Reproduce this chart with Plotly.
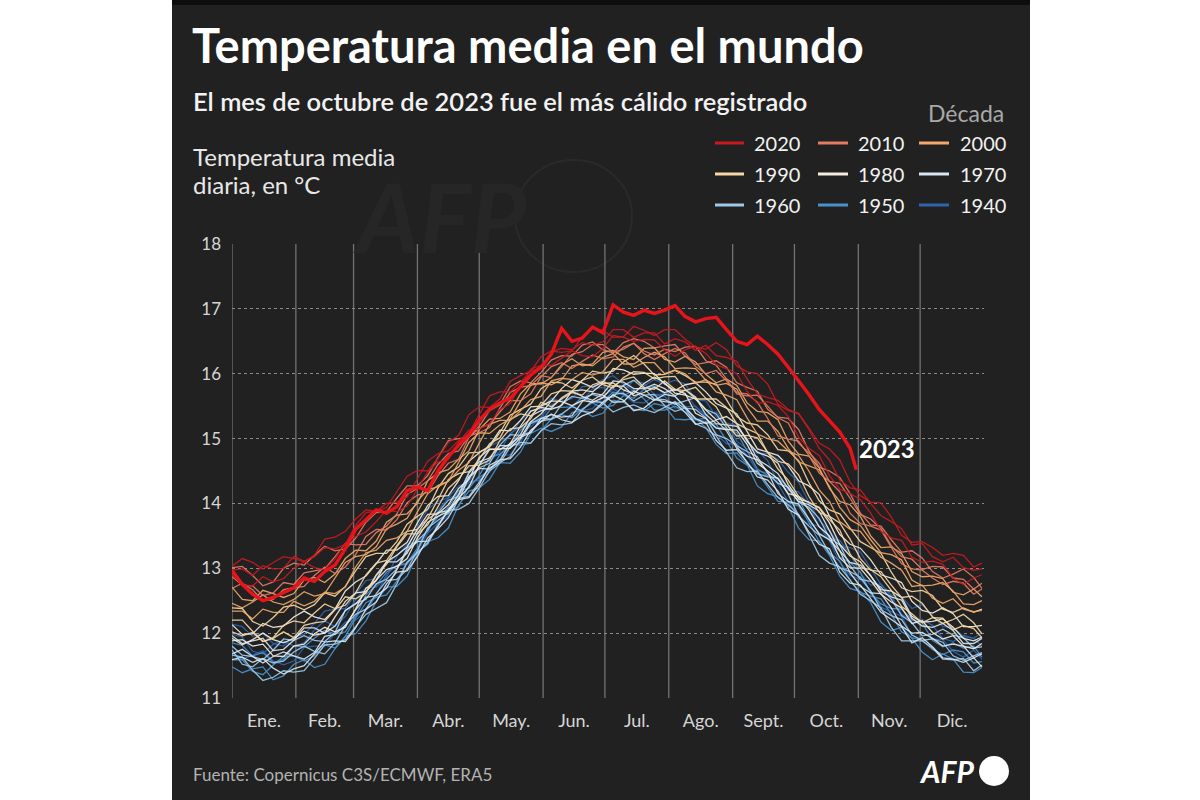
import plotly.graph_objects as go

# ---------------- data ----------------
DAYS = [0, 5, 10, 15, 20, 25, 30, 35, 40, 45, 50, 55, 60, 65, 70, 75, 80, 85, 90, 95, 100,
        105, 110, 115, 120, 125, 130, 135, 140, 145, 150, 155, 160, 165, 170, 175, 180, 185,
        190, 195, 200, 205, 210, 215, 220, 225, 230, 235, 240, 245, 250, 255, 260, 265, 270,
        275, 280, 285, 290, 295, 300, 305, 310, 315, 320, 325, 330, 335, 340, 345, 350, 355,
        360, 364]

MONTH_TICKS = [15.5, 45, 74.5, 105, 135.5, 166, 196.5, 227.5, 258, 288.5, 319, 349.5]
MONTH_LABELS = ["Ene.", "Feb.", "Mar.", "Abr.", "May.", "Jun.", "Jul.", "Ago.", "Sept.", "Oct.", "Nov.", "Dic."]
MONTH_STARTS = [0, 31, 59, 90, 120, 151, 181, 212, 243, 273, 304, 334]
Y_TICKS = [11, 12, 13, 14, 15, 16, 17, 18]

LEGEND_ORDER = ["2020", "2010", "2000", "1990", "1980", "1970", "1960", "1950", "1940"]
DECADE_COLORS = {
    "2020": "#c81a20", "2010": "#e47c62", "2000": "#f0a96b",
    "1990": "#f7d8a4", "1980": "#f4eee0", "1970": "#d6e7f3",
    "1960": "#9fcbea", "1950": "#4a92cc", "1940": "#2c64ad",
}

T1940_A = [11.98, 11.94, 11.72, 11.68, 11.83, 11.88, 11.80, 11.85, 12.05, 12.19, 12.10, 12.26, 12.52, 12.70, 12.71, 12.86, 13.18, 13.37, 13.41, 13.55, 13.90, 14.08, 14.14, 14.49, 14.63, 14.65, 14.80, 15.08, 15.18, 15.18, 15.33, 15.52, 15.60, 15.49, 15.58, 15.77, 15.79, 15.70, 15.72, 15.90, 15.85, 15.68, 15.68, 15.76, 15.70, 15.49, 15.37, 15.41, 15.24, 14.96, 14.84, 14.81, 14.66, 14.32, 14.20, 14.18, 13.97, 13.65, 13.47, 13.43, 13.22, 12.92, 12.74, 12.76, 12.57, 12.29, 12.19, 12.21, 12.12, 11.92, 11.87, 11.97, 11.92, 11.80]
T1940_B = [11.70, 11.60, 11.66, 11.73, 11.57, 11.51, 11.57, 11.78, 11.80, 11.80, 12.00, 12.17, 12.20, 12.34, 12.58, 12.91, 13.04, 13.06, 13.26, 13.54, 13.70, 13.81, 14.14, 14.33, 14.36, 14.48, 14.74, 14.75, 14.94, 15.24, 15.33, 15.29, 15.37, 15.49, 15.43, 15.46, 15.64, 15.77, 15.67, 15.56, 15.55, 15.67, 15.65, 15.47, 15.49, 15.50, 15.34, 15.07, 14.92, 14.92, 14.74, 14.50, 14.47, 14.30, 14.03, 13.78, 13.68, 13.65, 13.42, 13.09, 12.89, 12.83, 12.65, 12.40, 12.33, 12.26, 11.97, 11.89, 11.91, 11.90, 11.72, 11.63, 11.74, 11.60]
T1940_C = [12.14, 12.10, 11.95, 12.00, 11.84, 11.80, 11.94, 11.98, 12.15, 12.34, 12.37, 12.38, 12.60, 12.81, 12.84, 13.07, 13.20, 13.32, 13.64, 13.91, 14.03, 14.09, 14.27, 14.34, 14.58, 14.88, 14.96, 15.04, 15.28, 15.43, 15.46, 15.62, 15.57, 15.62, 15.80, 15.81, 15.91, 15.97, 15.84, 15.73, 15.81, 15.91, 15.84, 15.90, 15.84, 15.60, 15.58, 15.34, 15.24, 15.20, 14.95, 14.77, 14.77, 14.68, 14.48, 14.33, 14.02, 13.74, 13.58, 13.35, 13.32, 13.25, 13.00, 12.75, 12.59, 12.56, 12.38, 12.44, 12.27, 12.10, 12.09, 11.95, 11.92, 12.01]
T1950_A = [11.59, 11.59, 11.41, 11.36, 11.51, 11.64, 11.65, 11.57, 11.65, 11.82, 11.77, 11.95, 12.23, 12.47, 12.55, 12.59, 12.80, 13.10, 13.26, 13.37, 13.69, 13.88, 13.95, 14.28, 14.40, 14.51, 14.75, 14.92, 14.90, 14.93, 15.12, 15.30, 15.37, 15.32, 15.46, 15.55, 15.47, 15.51, 15.66, 15.75, 15.61, 15.44, 15.44, 15.50, 15.41, 15.29, 15.26, 15.22, 14.97, 14.70, 14.59, 14.48, 14.25, 14.03, 14.02, 13.96, 13.71, 13.41, 13.24, 13.11, 12.81, 12.63, 12.57, 12.53, 12.29, 12.02, 11.93, 11.89, 11.75, 11.67, 11.74, 11.71, 11.54, 11.56]
T1950_B = [11.85, 11.81, 11.65, 11.70, 11.55, 11.59, 11.80, 11.79, 11.92, 12.04, 11.99, 12.02, 12.26, 12.59, 12.74, 12.94, 13.04, 13.08, 13.31, 13.62, 13.79, 13.94, 14.20, 14.23, 14.43, 14.71, 14.76, 14.87, 15.13, 15.26, 15.26, 15.47, 15.48, 15.49, 15.64, 15.56, 15.57, 15.72, 15.68, 15.62, 15.76, 15.81, 15.69, 15.65, 15.49, 15.29, 15.31, 15.17, 15.16, 15.09, 14.81, 14.53, 14.43, 14.39, 14.25, 14.08, 13.75, 13.54, 13.44, 13.17, 13.09, 12.94, 12.61, 12.45, 12.38, 12.37, 12.21, 12.16, 11.89, 11.79, 11.85, 11.77, 11.80, 11.63]
T1950_C = [11.48, 11.39, 11.45, 11.48, 11.28, 11.34, 11.52, 11.59, 11.47, 11.52, 11.76, 11.95, 11.99, 12.19, 12.49, 12.71, 12.72, 12.88, 13.22, 13.41, 13.47, 13.62, 13.98, 14.19, 14.24, 14.37, 14.63, 14.62, 14.79, 15.08, 15.16, 15.11, 15.18, 15.40, 15.44, 15.34, 15.39, 15.59, 15.56, 15.45, 15.43, 15.54, 15.50, 15.30, 15.29, 15.31, 15.17, 14.91, 14.77, 14.78, 14.60, 14.27, 14.15, 14.10, 13.95, 13.62, 13.44, 13.42, 13.20, 12.88, 12.69, 12.64, 12.47, 12.17, 12.04, 12.09, 11.92, 11.71, 11.59, 11.68, 11.60, 11.40, 11.39, 11.47]
T1960_A = [11.74, 11.52, 11.48, 11.61, 11.54, 11.57, 11.71, 11.80, 11.72, 11.68, 11.85, 12.12, 12.29, 12.37, 12.61, 12.81, 12.83, 12.98, 13.27, 13.62, 13.74, 13.85, 14.08, 14.11, 14.33, 14.55, 14.63, 14.72, 14.99, 15.23, 15.31, 15.30, 15.38, 15.50, 15.42, 15.40, 15.53, 15.68, 15.70, 15.58, 15.67, 15.68, 15.51, 15.42, 15.47, 15.45, 15.32, 15.06, 15.00, 14.89, 14.62, 14.46, 14.41, 14.39, 14.14, 13.81, 13.65, 13.51, 13.23, 13.01, 12.95, 12.86, 12.65, 12.36, 12.27, 12.21, 11.97, 11.89, 11.91, 11.86, 11.65, 11.58, 11.65, 11.70]
T1960_B = [11.66, 11.63, 11.43, 11.27, 11.32, 11.42, 11.40, 11.42, 11.61, 11.82, 11.83, 11.90, 12.10, 12.29, 12.38, 12.47, 12.76, 13.09, 13.24, 13.39, 13.65, 13.89, 13.91, 14.00, 14.24, 14.50, 14.62, 14.87, 14.94, 14.93, 15.12, 15.23, 15.21, 15.24, 15.44, 15.58, 15.55, 15.41, 15.48, 15.52, 15.45, 15.40, 15.48, 15.57, 15.46, 15.23, 15.16, 15.04, 14.79, 14.55, 14.49, 14.50, 14.29, 14.09, 13.98, 13.83, 13.52, 13.20, 13.08, 13.02, 12.82, 12.60, 12.50, 12.39, 12.09, 11.88, 11.88, 11.88, 11.77, 11.60, 11.59, 11.61, 11.42, 11.51]
T1960_C = [11.80, 11.66, 11.64, 11.59, 11.74, 11.91, 11.89, 11.96, 11.89, 11.87, 12.01, 12.35, 12.46, 12.52, 12.76, 12.83, 12.99, 13.31, 13.43, 13.58, 13.86, 14.05, 14.11, 14.42, 14.55, 14.62, 14.90, 15.06, 15.05, 15.10, 15.27, 15.30, 15.53, 15.65, 15.62, 15.68, 15.63, 15.64, 15.82, 15.90, 15.77, 15.61, 15.60, 15.53, 15.58, 15.63, 15.45, 15.38, 15.17, 14.89, 14.80, 14.72, 14.46, 14.31, 14.25, 14.02, 13.94, 13.77, 13.47, 13.36, 13.04, 12.83, 12.80, 12.71, 12.52, 12.27, 12.16, 11.96, 11.98, 12.06, 11.97, 11.93, 11.77, 11.79]
T1970_A = [11.68, 11.75, 11.64, 11.54, 11.64, 11.71, 11.65, 11.60, 11.70, 11.95, 11.98, 12.12, 12.36, 12.55, 12.58, 12.69, 12.98, 13.27, 13.41, 13.42, 13.65, 13.91, 14.05, 14.40, 14.54, 14.53, 14.66, 14.93, 15.02, 15.09, 15.31, 15.37, 15.33, 15.35, 15.57, 15.70, 15.67, 15.56, 15.57, 15.73, 15.67, 15.59, 15.68, 15.65, 15.48, 15.31, 15.23, 15.28, 15.12, 14.85, 14.73, 14.67, 14.49, 14.15, 14.03, 13.99, 13.76, 13.53, 13.44, 13.27, 12.93, 12.72, 12.62, 12.61, 12.39, 12.11, 12.00, 12.01, 11.92, 11.80, 11.83, 11.80, 11.62, 11.68]
T1970_B = [11.96, 11.84, 11.88, 11.92, 11.73, 11.75, 11.89, 12.08, 12.08, 12.00, 12.11, 12.35, 12.45, 12.63, 12.90, 13.10, 13.10, 13.23, 13.54, 13.76, 13.86, 13.89, 14.14, 14.47, 14.64, 14.70, 14.89, 14.89, 15.06, 15.35, 15.43, 15.47, 15.63, 15.73, 15.65, 15.59, 15.69, 15.89, 15.87, 15.77, 15.77, 15.84, 15.77, 15.66, 15.75, 15.64, 15.37, 15.23, 15.21, 15.19, 14.99, 14.68, 14.58, 14.46, 14.23, 14.03, 13.98, 13.88, 13.58, 13.27, 13.09, 13.05, 12.89, 12.64, 12.56, 12.51, 12.23, 12.11, 12.09, 12.15, 12.04, 11.84, 11.84, 11.92]
T1970_C = [11.59, 11.63, 11.55, 11.61, 11.46, 11.37, 11.45, 11.50, 11.68, 11.86, 11.88, 11.87, 12.08, 12.37, 12.48, 12.76, 12.94, 12.96, 13.18, 13.47, 13.61, 13.78, 14.06, 14.09, 14.29, 14.59, 14.67, 14.69, 14.87, 15.13, 15.26, 15.38, 15.29, 15.25, 15.35, 15.41, 15.56, 15.67, 15.59, 15.43, 15.47, 15.60, 15.57, 15.55, 15.40, 15.22, 15.25, 14.97, 14.82, 14.83, 14.64, 14.41, 14.36, 14.19, 13.91, 13.82, 13.56, 13.37, 13.30, 12.94, 12.77, 12.74, 12.53, 12.32, 12.21, 12.10, 11.85, 11.93, 11.79, 11.62, 11.60, 11.55, 11.62, 11.48]
T1980_A = [11.92, 11.82, 11.90, 12.00, 11.90, 11.85, 11.92, 12.03, 11.97, 12.00, 12.25, 12.49, 12.62, 12.64, 12.81, 13.10, 13.20, 13.33, 13.60, 13.83, 13.84, 13.98, 14.23, 14.37, 14.71, 14.84, 14.83, 14.92, 15.19, 15.42, 15.48, 15.45, 15.51, 15.73, 15.75, 15.72, 15.85, 15.86, 15.75, 15.69, 15.85, 15.95, 15.86, 15.70, 15.67, 15.61, 15.44, 15.29, 15.34, 15.23, 14.96, 14.79, 14.73, 14.62, 14.29, 14.07, 14.02, 13.93, 13.70, 13.37, 13.19, 13.10, 12.88, 12.67, 12.65, 12.55, 12.26, 12.17, 12.18, 12.22, 12.09, 11.92, 11.88, 11.94]
T1980_B = [12.13, 11.98, 11.99, 12.15, 12.09, 12.11, 12.25, 12.34, 12.25, 12.21, 12.37, 12.65, 12.79, 12.88, 13.07, 13.28, 13.28, 13.40, 13.70, 13.97, 14.11, 14.12, 14.35, 14.65, 14.78, 14.89, 15.13, 15.12, 15.28, 15.49, 15.50, 15.58, 15.77, 15.91, 15.86, 15.79, 15.87, 16.08, 16.06, 15.99, 16.01, 16.00, 15.84, 15.74, 15.83, 15.86, 15.72, 15.54, 15.47, 15.38, 15.11, 14.84, 14.79, 14.74, 14.58, 14.35, 14.27, 14.14, 13.80, 13.52, 13.37, 13.31, 13.13, 12.90, 12.85, 12.78, 12.49, 12.35, 12.31, 12.39, 12.30, 12.10, 12.10, 12.12]
T1980_C = [11.88, 11.90, 11.80, 11.83, 11.65, 11.64, 11.80, 11.83, 11.99, 12.09, 12.02, 12.09, 12.37, 12.69, 12.82, 12.98, 13.03, 13.15, 13.47, 13.71, 13.80, 13.88, 14.08, 14.25, 14.59, 14.83, 14.84, 14.85, 15.01, 15.26, 15.38, 15.58, 15.57, 15.51, 15.59, 15.56, 15.63, 15.81, 15.81, 15.66, 15.71, 15.79, 15.71, 15.76, 15.69, 15.39, 15.31, 15.16, 15.14, 15.13, 14.91, 14.62, 14.50, 14.38, 14.15, 14.11, 13.90, 13.64, 13.50, 13.16, 13.01, 13.00, 12.81, 12.60, 12.48, 12.39, 12.15, 12.19, 12.01, 11.91, 11.96, 11.80, 11.76, 11.84]
T1990_A = [12.20, 12.20, 12.03, 11.87, 11.93, 12.12, 12.19, 12.16, 12.31, 12.45, 12.38, 12.43, 12.62, 12.90, 13.08, 13.12, 13.35, 13.57, 13.60, 13.77, 14.06, 14.37, 14.46, 14.49, 14.68, 14.92, 15.01, 15.29, 15.38, 15.35, 15.51, 15.69, 15.74, 15.73, 15.90, 15.95, 15.83, 15.78, 15.94, 16.03, 16.02, 15.92, 15.95, 15.96, 15.76, 15.61, 15.61, 15.61, 15.48, 15.23, 15.15, 15.08, 14.78, 14.65, 14.61, 14.44, 14.11, 13.86, 13.80, 13.70, 13.45, 13.15, 12.97, 12.95, 12.74, 12.55, 12.57, 12.46, 12.25, 12.15, 12.21, 12.29, 12.16, 11.99]
T1990_B = [12.39, 12.38, 12.18, 12.11, 12.24, 12.40, 12.43, 12.36, 12.44, 12.62, 12.57, 12.72, 12.96, 13.18, 13.23, 13.23, 13.41, 13.68, 13.80, 13.91, 14.24, 14.46, 14.56, 14.78, 14.79, 14.87, 15.09, 15.36, 15.45, 15.53, 15.77, 15.87, 15.86, 15.78, 15.90, 16.04, 16.01, 16.04, 16.18, 16.28, 16.15, 15.98, 15.99, 16.05, 15.97, 15.87, 15.87, 15.84, 15.60, 15.34, 15.24, 15.21, 15.06, 14.83, 14.81, 14.66, 14.32, 14.04, 13.90, 13.84, 13.62, 13.41, 13.32, 13.23, 12.94, 12.70, 12.64, 12.66, 12.58, 12.37, 12.32, 12.39, 12.32, 12.37]
T1990_C = [12.02, 11.96, 12.01, 11.87, 11.92, 12.02, 11.93, 12.12, 12.16, 12.18, 12.36, 12.56, 12.53, 12.62, 12.89, 13.06, 13.33, 13.53, 13.53, 13.67, 13.95, 14.23, 14.38, 14.58, 14.59, 14.67, 14.97, 15.15, 15.17, 15.31, 15.56, 15.49, 15.61, 15.71, 15.67, 15.83, 15.88, 15.81, 15.91, 15.95, 15.79, 15.76, 15.89, 15.76, 15.74, 15.79, 15.62, 15.49, 15.22, 15.04, 15.05, 15.01, 14.79, 14.53, 14.36, 14.11, 14.01, 13.94, 13.75, 13.59, 13.22, 13.01, 12.98, 12.87, 12.66, 12.41, 12.30, 12.16, 12.24, 12.23, 12.05, 12.12, 12.07, 11.93]
T2000_A = [12.34, 12.34, 12.22, 12.37, 12.32, 12.32, 12.49, 12.42, 12.49, 12.63, 12.61, 12.71, 13.02, 13.24, 13.28, 13.43, 13.47, 13.57, 13.87, 14.15, 14.28, 14.34, 14.51, 14.63, 14.93, 15.22, 15.28, 15.28, 15.43, 15.60, 15.65, 15.89, 15.93, 15.91, 16.02, 15.98, 16.03, 16.22, 16.22, 16.10, 16.17, 16.17, 16.00, 16.06, 16.00, 15.85, 15.91, 15.72, 15.67, 15.60, 15.32, 15.07, 15.00, 14.96, 14.81, 14.74, 14.50, 14.21, 14.03, 13.72, 13.60, 13.57, 13.36, 13.17, 13.08, 12.97, 12.72, 12.74, 12.54, 12.46, 12.53, 12.37, 12.33, 12.35]
T2000_B = [12.46, 12.39, 12.48, 12.59, 12.48, 12.44, 12.52, 12.64, 12.57, 12.61, 12.85, 13.09, 13.18, 13.21, 13.33, 13.61, 13.68, 13.77, 14.04, 14.21, 14.26, 14.34, 14.63, 14.94, 15.09, 15.08, 15.21, 15.30, 15.57, 15.82, 15.86, 15.83, 15.91, 16.12, 16.15, 16.12, 16.25, 16.31, 16.15, 16.15, 16.25, 16.33, 16.26, 16.08, 16.09, 16.08, 15.90, 15.82, 15.85, 15.76, 15.48, 15.27, 15.27, 15.11, 14.85, 14.64, 14.58, 14.52, 14.26, 13.94, 13.75, 13.66, 13.44, 13.24, 13.21, 13.13, 12.82, 12.73, 12.74, 12.78, 12.65, 12.45, 12.44, 12.50]
T2000_C = [12.71, 12.52, 12.50, 12.66, 12.61, 12.55, 12.61, 12.82, 12.86, 12.78, 12.91, 13.15, 13.28, 13.27, 13.42, 13.71, 13.82, 13.84, 14.00, 14.35, 14.47, 14.52, 14.68, 14.81, 15.14, 15.30, 15.31, 15.41, 15.69, 15.85, 15.84, 15.94, 16.14, 16.23, 16.12, 16.15, 16.33, 16.36, 16.26, 16.22, 16.39, 16.40, 16.22, 16.18, 16.27, 16.18, 15.99, 15.86, 15.92, 15.82, 15.55, 15.42, 15.40, 15.29, 14.96, 14.76, 14.73, 14.55, 14.23, 14.03, 13.98, 13.80, 13.50, 13.32, 13.33, 13.23, 12.95, 12.87, 12.88, 12.84, 12.63, 12.59, 12.68, 12.56]
T2010_A = [12.69, 12.77, 12.67, 12.50, 12.52, 12.67, 12.70, 12.72, 12.89, 13.02, 12.92, 13.02, 13.21, 13.49, 13.60, 13.59, 13.75, 14.01, 14.13, 14.17, 14.43, 14.62, 14.68, 15.02, 15.16, 15.22, 15.41, 15.59, 15.58, 15.69, 15.95, 16.11, 16.17, 16.08, 16.19, 16.29, 16.23, 16.26, 16.41, 16.47, 16.31, 16.22, 16.31, 16.39, 16.32, 16.11, 16.00, 16.05, 15.89, 15.71, 15.69, 15.56, 15.31, 15.04, 14.99, 14.96, 14.74, 14.47, 14.34, 14.18, 13.85, 13.69, 13.65, 13.59, 13.32, 13.07, 12.99, 12.97, 12.85, 12.75, 12.80, 12.77, 12.60, 12.68]
T2010_B = [13.01, 13.03, 12.89, 12.73, 12.79, 13.00, 13.08, 13.05, 13.20, 13.34, 13.27, 13.30, 13.46, 13.71, 13.86, 13.87, 14.08, 14.27, 14.27, 14.43, 14.71, 14.97, 15.00, 15.02, 15.19, 15.43, 15.52, 15.80, 15.89, 15.86, 16.02, 16.21, 16.28, 16.27, 16.44, 16.49, 16.37, 16.32, 16.48, 16.54, 16.50, 16.40, 16.43, 16.45, 16.27, 16.14, 16.17, 16.20, 16.10, 15.86, 15.79, 15.73, 15.45, 15.33, 15.31, 15.14, 14.81, 14.56, 14.50, 14.40, 14.15, 13.85, 13.67, 13.65, 13.44, 13.25, 13.27, 13.16, 12.95, 12.85, 12.91, 12.99, 12.86, 12.69]
T2010_C = [12.87, 12.74, 12.73, 12.58, 12.62, 12.78, 12.75, 12.93, 12.96, 12.99, 13.18, 13.38, 13.36, 13.37, 13.55, 13.65, 13.84, 14.14, 14.23, 14.35, 14.60, 14.77, 14.81, 15.04, 15.09, 15.17, 15.47, 15.71, 15.79, 15.82, 15.97, 15.94, 16.11, 16.30, 16.34, 16.45, 16.45, 16.33, 16.38, 16.47, 16.35, 16.29, 16.38, 16.34, 16.41, 16.42, 16.20, 16.13, 15.92, 15.69, 15.66, 15.67, 15.50, 15.32, 15.24, 14.93, 14.78, 14.62, 14.34, 14.31, 14.08, 13.83, 13.76, 13.61, 13.35, 13.18, 13.14, 12.98, 13.03, 13.02, 12.85, 12.83, 12.68, 12.77]
T2020 = [12.97, 12.99, 12.89, 13.04, 12.99, 13.00, 13.18, 13.11, 13.18, 13.32, 13.30, 13.37, 13.66, 13.86, 13.88, 14.00, 14.02, 14.10, 14.38, 14.65, 14.77, 14.81, 14.97, 15.08, 15.37, 15.66, 15.72, 15.72, 15.87, 16.04, 16.09, 16.34, 16.39, 16.37, 16.48, 16.44, 16.49, 16.68, 16.68, 16.56, 16.63, 16.63, 16.46, 16.54, 16.49, 16.36, 16.44, 16.28, 16.25, 16.19, 15.92, 15.69, 15.63, 15.59, 15.45, 15.38, 15.14, 14.85, 14.67, 14.36, 14.24, 14.21, 14.00, 13.81, 13.72, 13.61, 13.36, 13.38, 13.18, 13.10, 13.17, 13.01, 12.97, 12.99]
T2021 = [12.90, 12.74, 12.73, 12.87, 12.79, 12.84, 13.00, 13.10, 13.01, 12.98, 13.14, 13.39, 13.49, 13.56, 13.72, 13.90, 13.87, 13.96, 14.22, 14.49, 14.64, 14.68, 14.94, 15.13, 15.15, 15.23, 15.45, 15.54, 15.81, 16.07, 16.13, 16.13, 16.24, 16.35, 16.28, 16.26, 16.39, 16.59, 16.56, 16.50, 16.53, 16.52, 16.37, 16.27, 16.37, 16.42, 16.31, 16.14, 16.08, 16.00, 15.73, 15.54, 15.57, 15.51, 15.34, 15.02, 14.85, 14.74, 14.43, 14.22, 14.15, 14.06, 13.85, 13.57, 13.47, 13.43, 13.17, 13.09, 13.11, 13.06, 12.85, 12.75, 12.85, 12.90]
T2022 = [13.03, 13.15, 13.09, 12.99, 13.09, 13.18, 13.15, 13.10, 13.20, 13.45, 13.48, 13.57, 13.76, 13.90, 13.88, 13.94, 14.18, 14.42, 14.51, 14.50, 14.70, 14.94, 15.05, 15.37, 15.49, 15.48, 15.61, 15.88, 15.97, 16.04, 16.26, 16.35, 16.33, 16.35, 16.57, 16.70, 16.67, 16.56, 16.57, 16.73, 16.67, 16.59, 16.68, 16.68, 16.53, 16.41, 16.38, 16.48, 16.37, 16.12, 16.03, 16.00, 15.84, 15.53, 15.43, 15.39, 15.16, 14.93, 14.84, 14.67, 14.33, 14.12, 14.02, 14.01, 13.79, 13.51, 13.40, 13.41, 13.32, 13.20, 13.23, 13.20, 13.02, 13.08]

DAYS_2023 = [0, 5, 10, 15, 20, 25, 30, 35, 40, 45, 50, 55, 60, 65, 70, 75, 80, 85, 90, 95, 100,
             105, 110, 115, 120, 125, 130, 135, 140, 145, 150, 155, 160, 165, 170, 175, 180, 185,
             190, 195, 200, 205, 210, 215, 220, 225, 230, 235, 240, 245, 250, 255, 260, 265, 270,
             275, 280, 285, 290, 295, 300, 303]
T2023 = [12.97, 12.75, 12.60, 12.50, 12.55, 12.62, 12.70, 12.85, 12.80, 12.95, 13.05, 13.30, 13.60,
         13.75, 13.90, 13.85, 13.95, 14.20, 14.25, 14.20, 14.50, 14.72, 14.90, 15.05, 15.28, 15.45,
         15.55, 15.62, 15.80, 15.98, 16.10, 16.30, 16.70, 16.50, 16.55, 16.72, 16.63, 17.06, 16.95,
         16.90, 16.98, 16.93, 16.98, 17.05, 16.88, 16.80, 16.85, 16.87, 16.68, 16.50, 16.45, 16.58,
         16.45, 16.30, 16.10, 15.90, 15.68, 15.45, 15.27, 15.10, 14.85, 14.52]

SERIES = [
    ("1940", "T1940_A", T1940_A), ("1940", "T1940_B", T1940_B), ("1940", "T1940_C", T1940_C),
    ("1950", "T1950_A", T1950_A), ("1950", "T1950_B", T1950_B), ("1950", "T1950_C", T1950_C),
    ("1960", "T1960_A", T1960_A), ("1960", "T1960_B", T1960_B), ("1960", "T1960_C", T1960_C),
    ("1970", "T1970_A", T1970_A), ("1970", "T1970_B", T1970_B), ("1970", "T1970_C", T1970_C),
    ("1980", "T1980_A", T1980_A), ("1980", "T1980_B", T1980_B), ("1980", "T1980_C", T1980_C),
    ("1990", "T1990_A", T1990_A), ("1990", "T1990_B", T1990_B), ("1990", "T1990_C", T1990_C),
    ("2000", "T2000_A", T2000_A), ("2000", "T2000_B", T2000_B), ("2000", "T2000_C", T2000_C),
    ("2010", "T2010_A", T2010_A), ("2010", "T2010_B", T2010_B), ("2010", "T2010_C", T2010_C),
    ("2020", "T2020", T2020), ("2020", "T2021", T2021), ("2020", "T2022", T2022),
]

bad = [name for _, name, vals in SERIES if len(vals) != len(DAYS)]
assert not bad, "length mismatch: " + ", ".join(f"{n}={len(v)}" for _, n, v in SERIES if n in bad)
assert len(DAYS_2023) == len(T2023), f"2023 mismatch {len(DAYS_2023)} {len(T2023)}"

# ---------------- layout helpers (pixel -> paper) ----------------
W, H = 1200, 800
PANEL = "#212121"
FONT = "Lato"


def px(x):
    return x / W


def py(y):
    return 1 - y / H


fig = go.Figure()

for dec, name, vals in SERIES:
    fig.add_trace(go.Scatter(
        x=DAYS, y=vals, mode="lines", name=name,
        line=dict(color=DECADE_COLORS[dec], width=1.3),
        opacity=0.92, hoverinfo="skip", showlegend=False,
    ))

fig.add_trace(go.Scatter(
    x=DAYS_2023, y=T2023, mode="lines", name="2023",
    line=dict(color="#e8141c", width=3.4),
    hoverinfo="skip", showlegend=False,
))

shapes = []
shapes.append(dict(type="rect", xref="paper", yref="paper", x0=px(172), x1=px(1030), y0=0, y1=1,
                   fillcolor=PANEL, line=dict(width=0), layer="below"))
shapes.append(dict(type="rect", xref="paper", yref="paper", x0=px(172), x1=px(1030), y0=py(5), y1=1,
                   fillcolor="#0d0d0d", line=dict(width=0), layer="below"))
shapes.append(dict(type="circle", xref="paper", yref="paper",
                   x0=px(515), x1=px(632), y0=py(272), y1=py(160),
                   line=dict(color="#2a2a2a", width=2), layer="below"))
for d in MONTH_STARTS:
    shapes.append(dict(type="line", xref="x", yref="y", x0=d, x1=d, y0=11, y1=18,
                       line=dict(color="#737373", width=1.3), layer="below"))
leg_cols = [(715, 744, 752), (818, 848, 856), (919, 949, 958)]
leg_rows = [143, 174, 205]
annotations = []
for i, dec in enumerate(LEGEND_ORDER):
    r, c = divmod(i, 3)
    x0, x1, xt = leg_cols[c]
    yy = leg_rows[r]
    shapes.append(dict(type="line", xref="paper", yref="paper", x0=px(x0), x1=px(x1),
                       y0=py(yy), y1=py(yy), line=dict(color=DECADE_COLORS[dec], width=3)))
    annotations.append(dict(text=dec, xref="paper", yref="paper", x=px(xt), y=py(yy),
                            xanchor="left", yanchor="middle", showarrow=False,
                            font=dict(family=FONT, size=20, color="#f2f2f2")))
shapes.append(dict(type="circle", xref="paper", yref="paper",
                   x0=px(979), x1=px(1009), y0=py(786), y1=py(756),
                   fillcolor="white", line=dict(width=0)))


def ann(text, x, y, size, color, xanchor="left", weight="normal", italic=False):
    annotations.append(dict(
        text=text, xref="paper", yref="paper", x=px(x), y=py(y),
        xanchor=xanchor, yanchor="middle", showarrow=False,
        font=dict(family=FONT, size=size, color=color, weight=weight,
                  style="italic" if italic else "normal"),
    ))


ann("AFP", 440, 215, 96, "#262626", xanchor="center", weight="bold", italic=True)
ann("Temperatura media en el mundo", 190, 45, 47, "#ffffff", weight="bold")
ann("El mes de octubre de 2023 fue el más cálido registrado", 191, 101, 25.5, "#f2f2f2", weight=600)
ann("Década", 1006, 113, 23, "#a9a9a9", xanchor="right")
ann("Temperatura media", 191, 156, 24, "#e8e8e8")
ann("diaria, en °C", 191, 185, 24, "#e8e8e8")
ann("2023", 887, 448, 24, "#ffffff", xanchor="center", weight="bold")
ann("Fuente: Copernicus C3S/ECMWF, ERA5", 191, 774, 17, "#b3b3b3")
ann("AFP", 946, 771, 30, "#ffffff", xanchor="center", weight="bold", italic=True)

fig.update_layout(
    width=W, height=H,
    margin=dict(l=0, r=0, t=0, b=0),
    paper_bgcolor="white",
    plot_bgcolor=PANEL,
    showlegend=False,
    shapes=shapes,
    annotations=annotations,
    font=dict(family=FONT, color="#d9d9d9"),
    xaxis=dict(
        domain=[px(232), px(984)], range=[0, 365],
        tickmode="array", tickvals=MONTH_TICKS, ticktext=MONTH_LABELS,
        showgrid=False, zeroline=False, showline=False, ticks="",
        ticklabelstandoff=10, tickfont=dict(family=FONT, size=18, color="#d6d6d6"),
        automargin=False, fixedrange=True,
    ),
    yaxis=dict(
        domain=[1 - 698 / H, 1 - 244 / H], range=[11, 18],
        tickmode="array", tickvals=Y_TICKS,
        showgrid=True, gridcolor="#8a8a8a", gridwidth=1, griddash="dot",
        zeroline=False, showline=False, ticks="",
        ticklabelstandoff=10, tickfont=dict(family=FONT, size=17, color="#d6d6d6"),
        automargin=False, fixedrange=True,
    ),
)

fig.write_html("out.html", config={"displayModeBar": False},
               post_script="document.body.style.margin='0';")
